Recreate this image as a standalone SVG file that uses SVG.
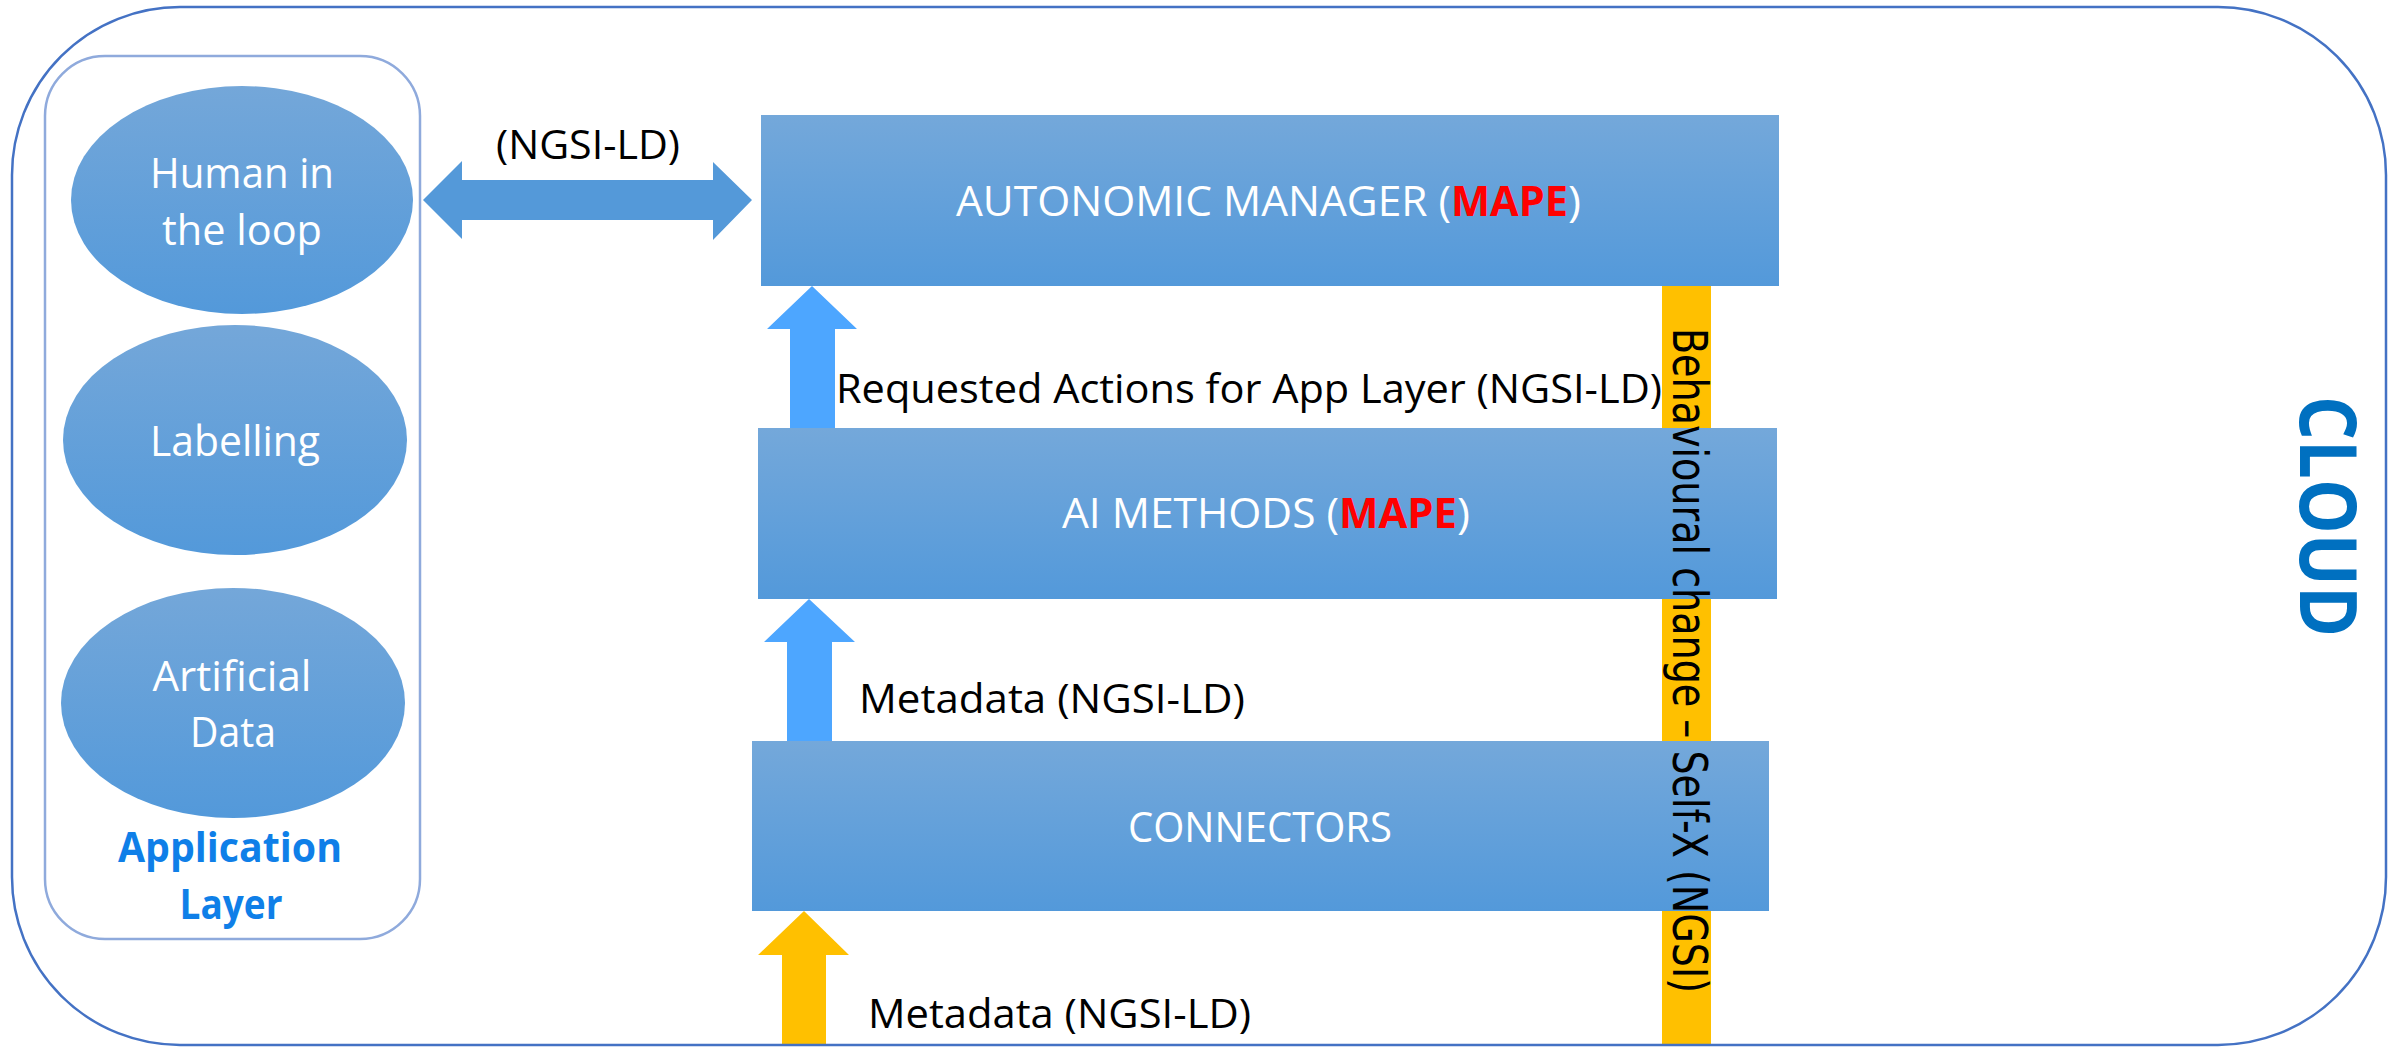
<svg xmlns="http://www.w3.org/2000/svg" width="2389" height="1047" viewBox="0 0 2389 1047">
<style>
.box{fill:url(#gBox);}
.ell{fill:url(#gEll);}
.wt{fill:#ffffff;font-family:"Open Sans","Liberation Sans",sans-serif;font-size:42px;}
.bt{fill:#000000;font-family:"Open Sans","Liberation Sans",sans-serif;font-size:41px;}
.red{fill:#ff0000;font-weight:bold;}
.app{fill:#0F7FE8;font-family:"Open Sans","Liberation Sans",sans-serif;font-size:42px;font-weight:bold;}
</style>
<defs>
<linearGradient id="gBox" x1="0" y1="0" x2="0" y2="1">
<stop offset="0" stop-color="#74A8DA"/>
<stop offset="1" stop-color="#5399DA"/>
</linearGradient>
<linearGradient id="gEll" x1="0" y1="0" x2="0" y2="1">
<stop offset="0" stop-color="#74A7D9"/>
<stop offset="1" stop-color="#5399DA"/>
</linearGradient>
</defs>
<rect x="0" y="0" width="2389" height="1047" fill="#ffffff"/>

<g id="app-layer">
<rect x="45" y="56" width="375" height="883" rx="60" ry="60" fill="none" stroke="#8FAADC" stroke-width="2.5"/>
<text class="app" x="230" y="862" text-anchor="middle" textLength="224" lengthAdjust="spacingAndGlyphs">Application</text>
<text class="app" x="231" y="919" text-anchor="middle" textLength="103" lengthAdjust="spacingAndGlyphs">Layer</text>
</g>

<g id="human-in-the-loop">
<ellipse class="ell" cx="242" cy="200" rx="171" ry="114"/>
<text class="wt" x="242" y="188" text-anchor="middle" textLength="184" lengthAdjust="spacingAndGlyphs">Human in</text>
<text class="wt" x="242" y="245" text-anchor="middle" textLength="160" lengthAdjust="spacingAndGlyphs">the loop</text>
</g>

<g id="labelling">
<ellipse class="ell" cx="235" cy="440" rx="172" ry="115"/>
<text class="wt" x="235" y="456" text-anchor="middle" textLength="170" lengthAdjust="spacingAndGlyphs">Labelling</text>
</g>

<g id="artificial-data">
<ellipse class="ell" cx="233" cy="703" rx="172" ry="115"/>
<text class="wt" x="232" y="691" text-anchor="middle" textLength="159" lengthAdjust="spacingAndGlyphs">Artificial</text>
<text class="wt" x="233" y="747" text-anchor="middle" textLength="86" lengthAdjust="spacingAndGlyphs">Data</text>
</g>

<g id="behavioural-bar">
<rect x="1662" y="286" width="49" height="760" fill="#FFC000"/>
</g>

<g id="autonomic-manager">
<rect class="box" x="761" y="115" width="1018" height="171"/>
<text class="wt" y="216" font-size="41"><tspan x="956" textLength="495" lengthAdjust="spacingAndGlyphs">AUTONOMIC MANAGER (</tspan><tspan class="red" x="1451" textLength="117" lengthAdjust="spacingAndGlyphs">MAPE</tspan><tspan x="1568" textLength="13" lengthAdjust="spacingAndGlyphs">)</tspan></text>
</g>

<g id="ai-methods">
<rect class="box" x="758" y="428" width="1019" height="171"/>
<text class="wt" y="528" font-size="41"><tspan x="1062" textLength="277" lengthAdjust="spacingAndGlyphs">AI METHODS (</tspan><tspan class="red" x="1339" textLength="118" lengthAdjust="spacingAndGlyphs">MAPE</tspan><tspan x="1457" textLength="13" lengthAdjust="spacingAndGlyphs">)</tspan></text>
</g>

<g id="connectors-box">
<rect class="box" x="752" y="741" width="1017" height="170"/>
<text class="wt" x="1128" y="842" font-size="41" textLength="264" lengthAdjust="spacingAndGlyphs">CONNECTORS</text>
</g>

<g id="connectors">
<polygon points="423,200 462,161 462,180 713,180 713,162 752,200 713,240 713,220 462,220 462,239" fill="#5499D9"/>
<polygon points="812,286 857,329 835,329 835,428 790,428 790,329 767,329" fill="#4DA6FF"/>
<polygon points="809,599 855,642 832,642 832,741 787,741 787,642 764,642" fill="#4DA6FF"/>
<polygon points="804,911 849,955 826,955 826,1046 782,1046 782,955 758,955" fill="#FFC000"/>
<text class="bt" x="496" y="159" font-size="42" textLength="184" lengthAdjust="spacingAndGlyphs">(NGSI-LD)</text>
<text class="bt" x="836" y="403" textLength="826" lengthAdjust="spacingAndGlyphs">Requested Actions for App Layer (NGSI-LD)</text>
<text class="bt" x="859" y="713" textLength="386" lengthAdjust="spacingAndGlyphs">Metadata (NGSI-LD)</text>
<text class="bt" x="868" y="1028" textLength="383" lengthAdjust="spacingAndGlyphs">Metadata (NGSI-LD)</text>
<text transform="translate(1673,328) rotate(90)" x="0" y="0" fill="#000000" font-family="'DejaVu Sans',Verdana,sans-serif" font-size="48" textLength="665" lengthAdjust="spacingAndGlyphs">Behavioural change – Self-X (NGSI)</text>
</g>

<g id="cloud">
<rect x="12" y="7" width="2374" height="1038" rx="168" ry="168" fill="none" stroke="#4472C4" stroke-width="2.5"/>
<text transform="translate(2300,396) rotate(90)" x="0" y="0" fill="#0070C0" font-family="'Open Sans','Liberation Sans',sans-serif" font-size="78" font-weight="bold" textLength="241" lengthAdjust="spacingAndGlyphs">CLOUD</text>
</g>
</svg>
